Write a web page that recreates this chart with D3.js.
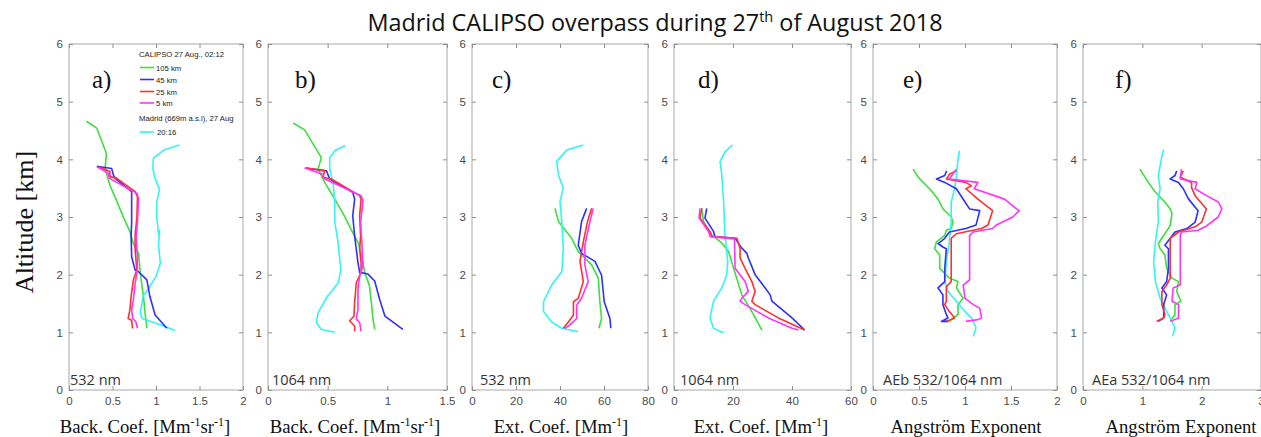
<!DOCTYPE html>
<html><head><meta charset="utf-8">
<script src="https://cdn.jsdelivr.net/npm/d3@7"></script>
<style>body{margin:0;background:#fff}svg{display:block}</style>
</head><body>
<svg id="chart" width="1261" height="437"></svg>
<script>
// ---------- DATA : [value, altitude km] ----------
const seriesNames = ["105 km", "45 km", "25 km", "5 km", "20:16"];
const altTicks = [0, 1, 2, 3, 4, 5, 6];

// a) Backscatter 532 nm
const a_105 = [[0.20,4.66],[0.32,4.54],[0.43,4.10],[0.415,3.84],[0.47,3.55],[0.55,3.27],[0.63,2.98],[0.70,2.75],[0.74,2.54],[0.80,2.37],[0.82,2.02],[0.856,1.62],[0.875,1.33],[0.895,1.07]];
const a_45  = [[0.32,3.88],[0.49,3.84],[0.51,3.73],[0.53,3.67],[0.72,3.44],[0.72,3.21],[0.72,2.92],[0.714,2.66],[0.72,2.31],[0.76,2.08],[0.80,2.05],[0.895,1.91],[0.93,1.62],[0.99,1.30],[1.125,1.07]];
const a_25  = [[0.34,3.87],[0.47,3.79],[0.47,3.70],[0.55,3.67],[0.76,3.44],[0.787,3.35],[0.78,2.98],[0.76,2.69],[0.76,2.43],[0.78,2.08],[0.74,1.91],[0.714,1.62],[0.70,1.39],[0.68,1.24],[0.72,1.21],[0.73,1.07]];
const a_5   = [[0.32,3.87],[0.45,3.76],[0.465,3.67],[0.78,3.41],[0.80,3.32],[0.787,2.92],[0.772,2.66],[0.787,2.31],[0.787,2.08],[0.76,1.85],[0.74,1.56],[0.72,1.39],[0.733,1.24],[0.77,1.18],[0.787,1.07]];
const a_mad = [[1.27,4.25],[1.09,4.16],[0.97,4.02],[0.964,3.84],[0.99,3.67],[1.04,3.47],[1.01,3.27],[1.01,2.98],[1.03,2.69],[1.04,2.77],[1.03,2.49],[1.05,2.20],[1.00,1.97],[0.914,1.76],[0.85,1.62],[0.82,1.33],[0.84,1.24],[1.05,1.13],[1.22,1.03]];

// b) Backscatter 1064 nm
const b_105 = [[0.21,4.63],[0.307,4.51],[0.447,4.03],[0.42,3.83],[0.475,3.60],[0.56,3.31],[0.64,3.02],[0.71,2.73],[0.754,2.56],[0.78,2.38],[0.81,2.04],[0.85,1.81],[0.866,1.52],[0.88,1.23],[0.894,1.05]];
const b_45  = [[0.313,3.85],[0.49,3.80],[0.517,3.66],[0.71,3.43],[0.726,3.31],[0.71,3.02],[0.726,2.67],[0.74,2.44],[0.754,2.21],[0.768,2.04],[0.838,2.01],[0.894,1.89],[0.936,1.57],[0.98,1.28],[1.13,1.05]];
const b_25  = [[0.32,3.85],[0.475,3.80],[0.46,3.69],[0.53,3.66],[0.768,3.37],[0.78,3.31],[0.768,3.02],[0.776,2.67],[0.768,2.44],[0.78,2.21],[0.78,2.04],[0.74,1.86],[0.726,1.52],[0.72,1.28],[0.684,1.20],[0.726,1.11],[0.726,1.02]];
const b_5   = [[0.307,3.85],[0.46,3.74],[0.475,3.66],[0.78,3.37],[0.796,3.28],[0.776,2.91],[0.788,2.50],[0.796,2.15],[0.768,1.98],[0.754,1.75],[0.754,1.40],[0.74,1.23],[0.768,1.17],[0.78,1.02]];
const b_mad = [[0.648,4.24],[0.56,4.15],[0.517,4.03],[0.517,3.83],[0.545,3.60],[0.56,3.25],[0.56,2.91],[0.587,2.56],[0.61,2.09],[0.59,1.86],[0.50,1.63],[0.42,1.34],[0.405,1.17],[0.447,1.05],[0.56,1.00]];

// c) Extinction 532 nm
const c_105 = [[37.7,3.15],[39.3,2.92],[45.3,2.63],[48.3,2.40],[54.4,2.17],[57.4,1.94],[58.1,1.53],[58.9,1.24],[57.7,1.07]];
const c_45  = [[52.1,3.15],[49.8,2.92],[48.3,2.51],[49.8,2.37],[55.9,2.23],[58.9,1.99],[60.1,1.53],[62.7,1.24],[63.1,1.07]];
const c_25  = [[54.4,3.15],[52.5,2.92],[50.6,2.57],[49.1,2.23],[50.6,1.88],[48.3,1.59],[46.1,1.53],[46.1,1.30],[43.8,1.18],[41.5,1.07]];
const c_5   = [[55.1,3.15],[53.6,2.92],[51.3,2.51],[51.3,2.17],[52.8,1.88],[49.8,1.59],[47.6,1.47],[47.6,1.24],[44.5,1.13],[42.3,1.07]];
const c_mad = [[50.6,4.25],[43.0,4.16],[38.5,3.96],[39.3,3.73],[41.5,3.50],[40.0,3.27],[40.8,2.92],[41.5,2.46],[40.8,2.05],[36.2,1.82],[32.5,1.53],[32.5,1.36],[36.2,1.18],[40.8,1.07],[48.3,1.01]];

// d) Extinction 1064 nm
const d_105 = [[9.4,3.15],[10.0,2.92],[12.8,2.69],[16.2,2.55],[18.5,2.40],[20.2,2.11],[23.0,1.65],[26.4,1.36],[29.8,1.04]];
const d_45  = [[11.1,3.15],[10.5,2.98],[13.4,2.75],[13.9,2.66],[20.7,2.63],[23.0,2.46],[24.7,2.37],[25.2,2.29],[27.5,2.00],[30.9,1.77],[32.6,1.65],[33.2,1.54],[40.0,1.25],[44.3,1.04]];
const d_25  = [[9.4,3.15],[8.8,2.98],[12.2,2.75],[12.8,2.66],[21.3,2.63],[22.4,2.46],[22.4,2.29],[24.1,2.11],[26.4,1.88],[27.5,1.71],[26.4,1.54],[27.5,1.48],[35.4,1.25],[44.3,1.04]];
const d_5   = [[8.8,3.15],[8.5,2.98],[11.7,2.75],[12.2,2.66],[20.5,2.62],[20.7,2.11],[24.1,1.88],[25.2,1.71],[23.0,1.59],[22.4,1.54],[24.1,1.48],[32.0,1.25],[40.0,1.07],[42.2,1.04]];
const d_mad = [[19.8,4.25],[17.3,4.13],[15.6,3.96],[16.2,3.73],[16.8,3.27],[17.3,2.69],[18.2,2.23],[17.9,2.00],[16.2,1.77],[13.4,1.54],[12.2,1.25],[13.4,1.07],[16.8,0.99]];

// e) Angstrom exponent (backscatter) 532/1064
const e_105 = [[0.435,3.83],[0.507,3.66],[0.616,3.49],[0.707,3.31],[0.76,3.14],[0.85,3.00],[0.87,2.91],[0.85,2.80],[0.797,2.77],[0.78,2.68],[0.69,2.57],[0.67,2.45],[0.725,2.34],[0.725,2.11],[0.83,1.94],[0.924,1.88],[0.906,1.77],[0.98,1.59],[0.924,1.48],[0.924,1.31],[0.83,1.19],[0.78,1.19]];
const e_45  = [[0.80,3.80],[0.78,3.72],[0.69,3.66],[0.78,3.60],[0.906,3.49],[1.00,3.26],[1.05,3.14],[1.16,3.11],[1.12,2.86],[1.01,2.80],[0.83,2.74],[0.78,2.63],[0.707,2.54],[0.76,2.48],[0.797,2.45],[0.78,2.11],[0.78,1.88],[0.707,1.77],[0.76,1.65],[0.76,1.48],[0.797,1.31],[0.815,1.25],[0.743,1.19],[0.815,1.19]];
const e_25  = [[0.906,3.80],[0.83,3.74],[0.80,3.66],[1.01,3.60],[1.07,3.54],[1.01,3.49],[1.14,3.31],[1.30,3.11],[1.25,2.86],[1.18,2.80],[0.906,2.71],[0.85,2.63],[0.85,2.11],[0.85,1.88],[0.797,1.79],[0.797,1.54],[0.78,1.48],[0.83,1.36],[0.888,1.25],[0.797,1.19]];
const e_5   = [[0.906,3.83],[0.83,3.66],[1.14,3.60],[1.10,3.49],[1.43,3.31],[1.56,3.14],[1.59,3.11],[1.52,3.00],[1.34,2.86],[1.30,2.80],[1.09,2.74],[1.05,2.68],[1.05,1.91],[0.98,1.82],[1.00,1.59],[1.09,1.48],[1.16,1.42],[1.18,1.25],[1.14,1.22],[1.01,1.19]];
const e_mad = [[0.94,4.15],[0.924,4.00],[0.906,3.72],[0.888,3.49],[0.85,3.26],[0.85,2.91],[0.83,2.57],[0.797,2.22],[0.78,1.88],[0.815,1.71],[0.906,1.54],[1.00,1.36],[1.07,1.25],[1.12,1.08],[1.09,0.93]];

// f) Angstrom exponent (extinction) 532/1064
const f_105 = [[0.96,3.83],[1.10,3.60],[1.22,3.43],[1.38,3.26],[1.47,3.14],[1.50,3.06],[1.47,2.86],[1.44,2.80],[1.36,2.68],[1.27,2.54],[1.30,2.45],[1.38,2.34],[1.41,2.11],[1.50,1.94],[1.61,1.88],[1.58,1.71],[1.65,1.54],[1.55,1.48],[1.55,1.31],[1.47,1.19]];
const f_45  = [[1.58,3.80],[1.55,3.72],[1.47,3.66],[1.61,3.60],[1.69,3.49],[1.78,3.31],[1.94,3.11],[1.89,2.91],[1.75,2.80],[1.55,2.74],[1.47,2.63],[1.38,2.51],[1.44,2.45],[1.44,2.11],[1.41,1.88],[1.33,1.77],[1.41,1.65],[1.36,1.48],[1.36,1.25],[1.27,1.19]];
const f_25  = [[1.69,3.80],[1.64,3.69],[1.83,3.60],[1.83,3.51],[1.89,3.37],[2.08,3.14],[2.00,2.91],[1.89,2.83],[1.61,2.74],[1.47,2.63],[1.47,1.94],[1.41,1.82],[1.33,1.71],[1.33,1.48],[1.38,1.31],[1.36,1.25],[1.24,1.19]];
const f_5   = [[1.66,3.83],[1.64,3.66],[1.92,3.60],[1.89,3.49],[2.08,3.37],[2.28,3.26],[2.34,3.14],[2.28,3.00],[2.06,2.83],[1.94,2.77],[1.66,2.74],[1.64,2.68],[1.64,1.82],[1.52,1.77],[1.50,1.54],[1.61,1.48],[1.61,1.25],[1.47,1.19]];
const f_mad = [[1.36,4.17],[1.33,4.06],[1.27,3.72],[1.30,3.49],[1.26,3.26],[1.27,2.91],[1.22,2.57],[1.19,2.22],[1.22,1.88],[1.30,1.59],[1.41,1.36],[1.50,1.19],[1.55,1.08],[1.51,0.93]];

const ticks_a = [0, 0.5, 1, 1.5, 2];
const ticks_b = [0, 0.5, 1, 1.5];
const ticks_c = [0, 20, 40, 60, 80];
const ticks_d = [0, 20, 40, 60];
const ticks_e = [0, 0.5, 1, 1.5, 2];
const ticks_f = [0, 1, 2, 3];

// ---------- LAYOUT / STYLE ----------
const colors = ["#3de03d", "#2f2fff", "#ff3030", "#ff33ff", "#33f5f5"];
const TOP = 44, BOTTOM = 390;
const panels = [
  {left: 69,  right: 243,  domain: [0, 2],  ticks: ticks_a, letter: "a)", lx: 23, nx: 1, note: "532 nm", xlabel: "Back. Coef. [Mm^-1sr^-1]", cx: 145, data: [a_105, a_45, a_25, a_5, a_mad]},
  {left: 268, right: 447,  domain: [0, 1.5],ticks: ticks_b, letter: "b)", lx: 27, nx: 4, note: "1064 nm", xlabel: "Back. Coef. [Mm^-1sr^-1]", cx: 355, data: [b_105, b_45, b_25, b_5, b_mad]},
  {left: 472, right: 648,  domain: [0, 80], ticks: ticks_c, letter: "c)", lx: 20, nx: 8, note: "532 nm", xlabel: "Ext. Coef. [Mm^-1]", cx: 561, data: [c_105, c_45, c_25, c_5, c_mad]},
  {left: 674, right: 851,  domain: [0, 60], ticks: ticks_d, letter: "d)", lx: 24, nx: 6, note: "1064 nm", xlabel: "Ext. Coef. [Mm^-1]", cx: 761, data: [d_105, d_45, d_25, d_5, d_mad]},
  {left: 873, right: 1057, domain: [0, 2],  ticks: ticks_e, letter: "e)", lx: 30, nx: 10, note: "AEb 532/1064 nm", xlabel: "Angström Exponent", cx: 966, data: [e_105, e_45, e_25, e_5, e_mad]},
  {left: 1083,right: 1261, domain: [0, 3],  ticks: ticks_f, letter: "f)", lx: 32, nx: 9, note: "AEa 532/1064 nm", xlabel: "Angström Exponent", cx: 1181, data: [f_105, f_45, f_25, f_5, f_mad]}
];

const svg = d3.select("#chart");
const fmt = d3.format("~g");
const y = d3.scaleLinear().domain([0, 6]).range([BOTTOM, TOP]);

panels.forEach(p => {
  const x = d3.scaleLinear().domain(p.domain).range([p.left, p.right]);
  const g = svg.append("g");
  g.append("rect").attr("x", p.left).attr("y", TOP).attr("width", p.right - p.left).attr("height", BOTTOM - TOP)
    .attr("fill", "#fff").attr("stroke", "#a8a8a8").attr("stroke-width", 1);
  const styleAxis = sel => {
    sel.select(".domain").remove();
    sel.selectAll("line").attr("stroke", "#909090");
    sel.selectAll("text").attr("fill", "#4a4a4a").style("font-family", "Liberation Sans, Arial, sans-serif").style("font-size", "11.5px");
  };
  g.append("g").attr("transform", `translate(${p.left},0)`)
    .call(d3.axisLeft(y).tickValues(altTicks).tickFormat(fmt).tickSize(-4).tickPadding(6)).call(styleAxis);
  g.append("g").attr("transform", `translate(${p.right},0)`)
    .call(d3.axisRight(y).tickValues(altTicks).tickFormat(() => null).tickSize(-4)).call(styleAxis)
    .call(s => s.selectAll("text").remove());
  g.append("g").attr("transform", `translate(0,${BOTTOM})`)
    .call(d3.axisBottom(x).tickValues(p.ticks).tickFormat(fmt).tickSize(-4).tickPadding(7)).call(styleAxis);
  g.append("g").attr("transform", `translate(0,${TOP})`)
    .call(d3.axisTop(x).tickValues(p.ticks).tickSize(-4)).call(styleAxis)
    .call(s => s.selectAll("text").remove());

  const line = d3.line().x(d => x(d[0])).y(d => y(d[1]));
  const order = [0, 4, 1, 2, 3];
  order.forEach(i => {
    g.append("path").attr("d", line(p.data[i])).attr("fill", "none")
      .attr("stroke", colors[i]).attr("stroke-width", 1.6).attr("stroke-linejoin", "round");
  });

  g.append("text").attr("x", p.left + p.lx).attr("y", 88).text(p.letter)
    .style("font-family", "Liberation Serif, Times New Roman, serif").style("font-size", "25px").attr("fill", "#111");
  g.append("text").attr("x", p.left + p.nx).attr("y", 385).text(p.note)
    .style("font-family", "Open Sans, Liberation Sans, sans-serif").style("font-size", "14.5px").attr("fill", "#333");

  // x label with superscripts
  const t = svg.append("text").attr("x", p.cx).attr("y", 433).attr("text-anchor", "middle")
    .style("font-family", "Liberation Serif, Times New Roman, serif").style("font-size", "18.7px").attr("fill", "#111");
  const parts = p.xlabel.split(/(\^-1)/).filter(s => s.length);
  let shift = 0;
  parts.forEach(s => {
    if (s === "^-1") {
      t.append("tspan").attr("dy", -7).style("font-size", "12px").text("-1");
      shift = 7;
    } else {
      t.append("tspan").attr("dy", shift).text(s);
      shift = 0;
    }
  });
});

// legend in panel a
const lg = svg.append("g").style("font-family", "Liberation Sans, Arial, sans-serif").style("font-size", "7.7px").attr("fill", "#222");
lg.append("text").attr("x", 139).attr("y", 57).text("CALIPSO 27 Aug., 02:12");
const legY = [67.5, 79.5, 91.5, 103];
[0, 1, 2, 3].forEach((i, k) => {
  lg.append("line").attr("x1", 140).attr("x2", 154).attr("y1", legY[k]).attr("y2", legY[k]).attr("stroke", colors[i]).attr("stroke-width", 1.6);
  lg.append("text").attr("x", 156).attr("y", legY[k] + 3).text(seriesNames[i]);
});
lg.append("text").attr("x", 139).attr("y", 121).text("Madrid (669m a.s.l), 27 Aug");
lg.append("line").attr("x1", 140).attr("x2", 154).attr("y1", 132).attr("y2", 132).attr("stroke", colors[4]).attr("stroke-width", 1.6);
lg.append("text").attr("x", 157).attr("y", 135).text(seriesNames[4]);

// title
const title = svg.append("text").attr("x", 655).attr("y", 31).attr("text-anchor", "middle")
  .style("font-family", "Open Sans, sans-serif").style("font-size", "23.4px").attr("fill", "#111");
title.append("tspan").text("Madrid CALIPSO overpass during 27");
title.append("tspan").attr("dy", -9).style("font-size", "14.5px").text("th");
title.append("tspan").attr("dy", 9).text(" of August 2018");

// y label
svg.append("text").attr("transform", "translate(33,222) rotate(-90)").attr("text-anchor", "middle")
  .style("font-family", "Liberation Serif, Times New Roman, serif").style("font-size", "26px").attr("fill", "#111")
  .text("Altitude [km]");
</script>
</body></html>
